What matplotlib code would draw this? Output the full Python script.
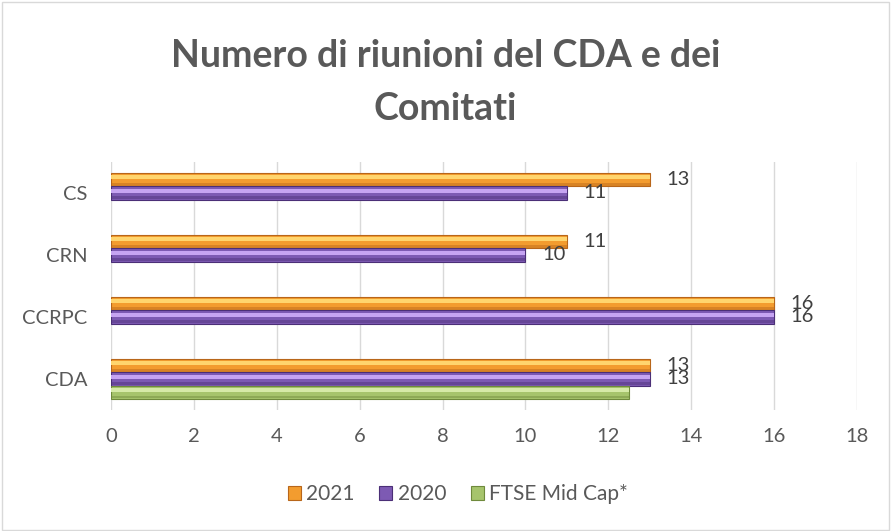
import matplotlib.pyplot as plt
import matplotlib.patches as mpatches
import numpy as np

categories = ['CDA', 'CCRPC', 'CRN', 'CS']
vals_2021 = [13, 16, 11, 13]
vals_2020 = [13, 16, 10, 11]
vals_ftse = [12.5, 0, 0, 0]
series_names = ['2021', '2020', 'FTSE Mid Cap*']

plt.rcParams['font.family'] = ['Lato', 'DejaVu Sans']

fig = plt.figure(figsize=(8.91, 5.31), dpi=100)
ax = fig.add_axes([0.1246, 0.228, 0.9618 - 0.1246, 0.467])

# (main, highlight, dark edge)
styles = [
    ('#F39C2F', '#FFD56E', '#B8661A'),
    ('#7D5AB3', '#C6A4F2', '#4B2F77'),
    ('#A6C46C', '#D6EAA8', '#6F8A3C'),
]

y = np.arange(len(categories))
h = 0.215
offsets = [h, 0, -h]
series = [vals_2021, vals_2020, vals_ftse]

for vals, off, (main, light, dark) in zip(series, offsets, styles):
    vals = np.array(vals, dtype=float)
    keep = vals > 0
    pos = (y + off)[keep]
    vals = vals[keep]
    ax.barh(pos, vals, height=h, color=main, edgecolor=dark, linewidth=0.8, zorder=3)
    # bevel: light stripe near the top, darker stripe at the bottom
    ax.barh(pos + h * 0.18, vals, height=h * 0.3, color=light, linewidth=0, zorder=4)
    ax.barh(pos - h * 0.36, vals, height=h * 0.2, color=dark, alpha=0.45, linewidth=0, zorder=4)

# data labels for 2021 and 2020
for vals, off in zip(series[:2], offsets[:2]):
    for yi, v in zip(y, vals):
        ax.text(v + 0.4, yi + off, str(v), va='center', ha='left',
                fontsize=14.5, color='#404040', zorder=5)

ax.set_xlim(0, 18)
ax.set_ylim(-0.5, 3.5)
ax.set_xticks(np.arange(0, 19, 2))
ax.set_yticks(y)
ax.set_yticklabels(categories)
ax.tick_params(axis='both', length=0, labelsize=14.5, labelcolor='#595959')
ax.tick_params(axis='x', pad=13)
ax.tick_params(axis='y', pad=17)
ax.grid(axis='x', color='#D9D9D9', linewidth=1, zorder=0)
for s in ax.spines.values():
    s.set_visible(False)

fig.text(0.5, 0.844, 'Numero di riunioni del CDA e dei\nComitati', ha='center', va='center',
         fontsize=27, fontweight='bold', color='#595959', linespacing=1.68)

handles = [mpatches.Patch(facecolor=m, edgecolor=d, linewidth=0.8, label=n)
           for (m, l, d), n in zip(styles, series_names)]
fig.legend(handles=handles, loc='center', bbox_to_anchor=(0.514, 0.069), ncol=3,
           frameon=False, fontsize=15, labelcolor='#595959', handlelength=0.62,
           handleheight=0.62, handletextpad=0.25, columnspacing=1.2)

fig.patches.append(mpatches.Rectangle((0.002, 0.002), 0.996, 0.994, transform=fig.transFigure,
                                      fill=False, edgecolor='#D9D9D9', linewidth=1))

fig.savefig('out.png', dpi=100)
